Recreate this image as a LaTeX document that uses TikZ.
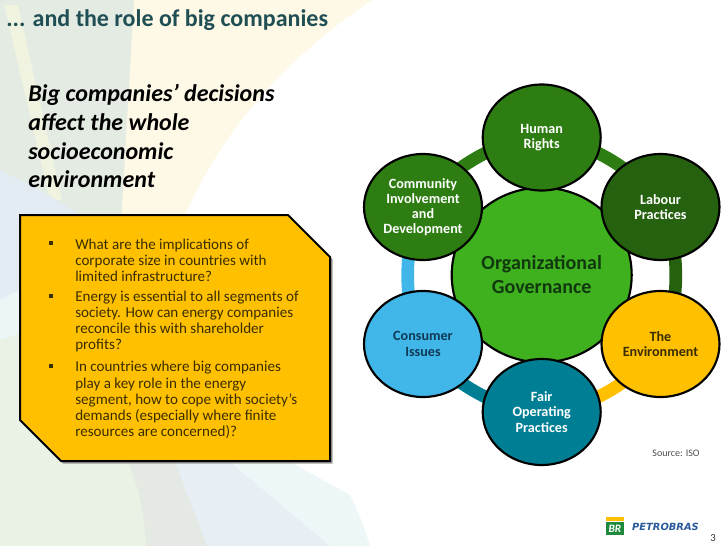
\documentclass[tikz,border=0pt]{standalone}
\usepackage{fontspec}
\setmainfont{Carlito}
\newfontfamily\logofont{DejaVu Sans}
\usetikzlibrary{shapes.geometric,backgrounds}
\definecolor{gA}{HTML}{2E7D12}
\definecolor{gB}{HTML}{26610F}
\definecolor{gC}{HTML}{3FB01E}
\definecolor{blueC}{HTML}{40B7E8}
\definecolor{tealC}{HTML}{007F94}
\definecolor{yelC}{HTML}{FFC000}
\definecolor{titleC}{HTML}{1F4E54}
\definecolor{brownT}{HTML}{3A2E00}
\definecolor{navyT}{HTML}{0E3A55}
\definecolor{coreT}{HTML}{10390F}
\definecolor{logoB}{HTML}{2A5A9B}
\definecolor{logoG}{HTML}{1F8A3C}
\definecolor{bgCream}{HTML}{FEF8E6}
\definecolor{bgGrey}{HTML}{E4EBE3}
\definecolor{bgStrip}{HTML}{F0F3E0}
\definecolor{bgBlue}{HTML}{E3ECF3}
\definecolor{bgAqua}{HTML}{EBF6F7}
\definecolor{bgGreen}{HTML}{E9F2E5}
\definecolor{bgGreyB}{HTML}{E5E9E4}
\definecolor{bgBlueB}{HTML}{E7EFF4}
\definecolor{bgAquaB}{HTML}{EEF7F7}
\tikzset{
 petal/.style={ellipse,draw=black,line width=1.6pt,minimum width=88.5pt,minimum height=79.5pt,inner sep=0pt,align=center,font=\fontsize{10.6}{11.4}\selectfont\bfseries},
 core/.style={ellipse,draw=black,fill=gC,line width=1.6pt,minimum width=135pt,minimum height=131pt,inner sep=0pt,align=center,text=coreT,font=\fontsize{15}{18}\selectfont\bfseries},
 ring/.style={line width=9.5pt,bend left=30,looseness=0.765},
 bodytext/.style={anchor=west,align=left,inner sep=0pt,text=brownT,font=\fontsize{11.3}{12.1}\selectfont},
 bul/.style={fill=brownT,minimum size=3.2pt,inner sep=0pt},
}
\begin{document}
\begin{tikzpicture}[x=0.75pt,y=-0.75pt]
\useasboundingbox (0,0) rectangle (728,546);
\begin{pgfonlayer}{background}
 % backdrop
 \fill[white] (0,0) rectangle (728,546);
 \fill[bgCream] (125,0) -- (372,0) .. controls (290,55) and (225,125) .. (185,215) -- (185,240) -- (110,240) -- cycle;
 \fill[bgGrey] (0,0) -- (134,0) -- (120,240) -- (0,240) -- cycle;
 \fill[bgStrip] (4,5) -- (18,5) -- (62,200) -- (50,200) -- cycle;
 \fill[bgBlue] (0,170) -- (40,190) -- (120,240) -- (0,300) -- cycle;
 \fill[bgAqua] (0,300) -- (60,270) -- (60,320) -- (0,345) -- cycle;
 \fill[bgGreen] (0,340) -- (60,320) -- (130,465) .. controls (140,490) and (145,520) .. (148,546) -- (0,546) -- cycle;
 \fill[bgAquaB] (225,462) -- (290,462) -- (350,495) .. controls (360,515) and (365,530) .. (370,546) -- (322,546) -- cycle;
 \fill[bgBlueB] (170,462) -- (230,462) -- (330,546) -- (205,546) -- cycle;
 \fill[bgGreyB] (128,462) -- (175,462) -- (207,546) -- (146,546) .. controls (145,520) and (140,490) .. (128,462) -- cycle;
 % shadow of the box
 \fill[black!55,opacity=.7] (22,217) -- (290,217) -- (332.5,259) -- (332.5,463.5) -- (63,463.5) -- (22,422) -- cycle;
\end{pgfonlayer}

\coordinate (boxa) at (20,215);
\fill[yelC,draw=black,line width=1.5pt,line join=miter] (boxa) -- (288,215) -- (330,257) -- (330,461) -- (61,461) -- (20,420) -- cycle;

\node[anchor=west,inner sep=0pt,text=titleC,font=\fontsize{18}{20}\selectfont\bfseries] (title) at (6,20) {... and the role of big companies};
\node[anchor=west,inner sep=0pt,align=left,font=\fontsize{18}{21.7}\selectfont\bfseries\itshape] (head) at (28,136) {Big companies’ decisions\\affect the whole\\socioeconomic\\environment};

\node[bul] (b1) at (51,243) {};
\node[bul] (b2) at (51,296) {};
\node[bul] (b3) at (51,366) {};
\node[bodytext] (t1) at (75,260) {What are the implications of\\corporate size in countries with\\limited infrastructure?};
\node[bodytext] (t2) at (75,321.5) {Energy is essential to all segments of\\society. How can energy companies\\reconcile this with shareholder\\profits?};
\node[bodytext] (t3) at (75,400) {In countries where big companies\\play a key role in the energy\\segment, how to cope with society’s\\demands (especially where finite\\resources are concerned)?};

\node[core] (gov) at (541.7,275) {Organizational\\Governance};
\node[petal,fill=gA,text=white] (hr) at (541.7,137.5) {Human\\Rights};
\node[petal,fill=gA,text=white] (cm) at (423,207) {Community\\Involvement\\and\\Development};
\node[petal,fill=gB,text=white] (lb) at (660.5,207) {Labour\\Practices};
\node[petal,fill=blueC,text=navyT] (cs) at (423,344) {Consumer\\Issues};
\node[petal,fill=yelC,text=brownT] (en) at (660.5,344) {The\\Environment};
\node[petal,fill=tealC,text=white] (fo) at (541.7,412) {Fair\\Operating\\Practices};

\begin{pgfonlayer}{background}
 \draw[ring,gA] (cm.center) to (hr.center);
 \draw[ring,gA] (hr.center) to (lb.center);
 \draw[ring,gB] (lb.center) to (en.center);
 \draw[ring,yelC] (en.center) to (fo.center);
 \draw[ring,tealC] (fo.center) to (cs.center);
 \draw[ring,blueC] (cs.center) to (cm.center);
\end{pgfonlayer}

\node[inner sep=0pt,text=black!70,font=\fontsize{7.5}{9}\selectfont] (src) at (676,453) {Source: ISO};

% logo
\node[fill=yelC,minimum width=13.5pt,minimum height=3pt,inner sep=0pt] (lgy) at (615,519) {};
\node[fill=logoG,text=white,minimum width=13.5pt,minimum height=10pt,inner sep=0pt,font=\fontsize{8.5}{9}\selectfont\bfseries\itshape] (lgb) at (615,528.8) {BR};
\node[inner sep=0pt,text=logoB,font=\logofont\fontsize{7.4}{9}\selectfont\bfseries\itshape] (lgt) at (665.5,527) {PETROBRAS};
\node[inner sep=0pt,text=black!80,font=\fontsize{8}{9}\selectfont] (pg) at (713,538) {3};
\end{tikzpicture}
\end{document}
